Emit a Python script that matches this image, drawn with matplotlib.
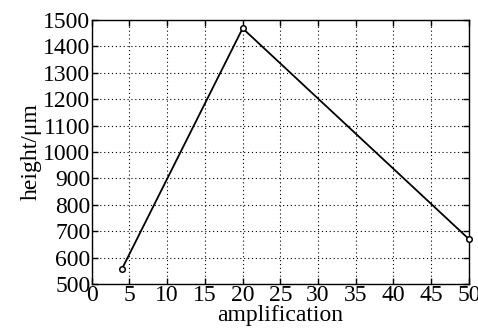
import matplotlib
matplotlib.use("Agg")
import matplotlib.pyplot as plt

amplification = [4, 20, 50]
height = [557, 1468, 670]

x_ticks = list(range(0, 51, 5))
y_ticks = list(range(500, 1501, 100))

plt.rcParams['font.family'] = ['Liberation Serif', 'DejaVu Serif']

fig = plt.figure(figsize=(4.78, 3.31), dpi=100)
ax = fig.add_axes([0.192, 0.142, 0.789, 0.798])

ax.plot(amplification, height, color='black', linewidth=1.3,
        marker='o', markersize=4, markerfacecolor='white',
        markeredgecolor='black', markeredgewidth=1.1, clip_on=False, zorder=3)

ax.set_xlim(0, 50)
ax.set_ylim(500, 1500)
ax.set_xticks(x_ticks)
ax.set_yticks(y_ticks)
ax.tick_params(direction='in', length=4, width=1, labelsize=17, pad=1,
               top=True, right=True)
ax.grid(True, linestyle=(0, (1, 2.5)), color='black', linewidth=0.8)
for s in ax.spines.values():
    s.set_linewidth(1.0)

ax.set_xlabel('amplification', fontsize=17, labelpad=-1)
ax.set_ylabel('height/\u03bcm', fontsize=17, labelpad=1)

fig.savefig('out.png', dpi=100)
